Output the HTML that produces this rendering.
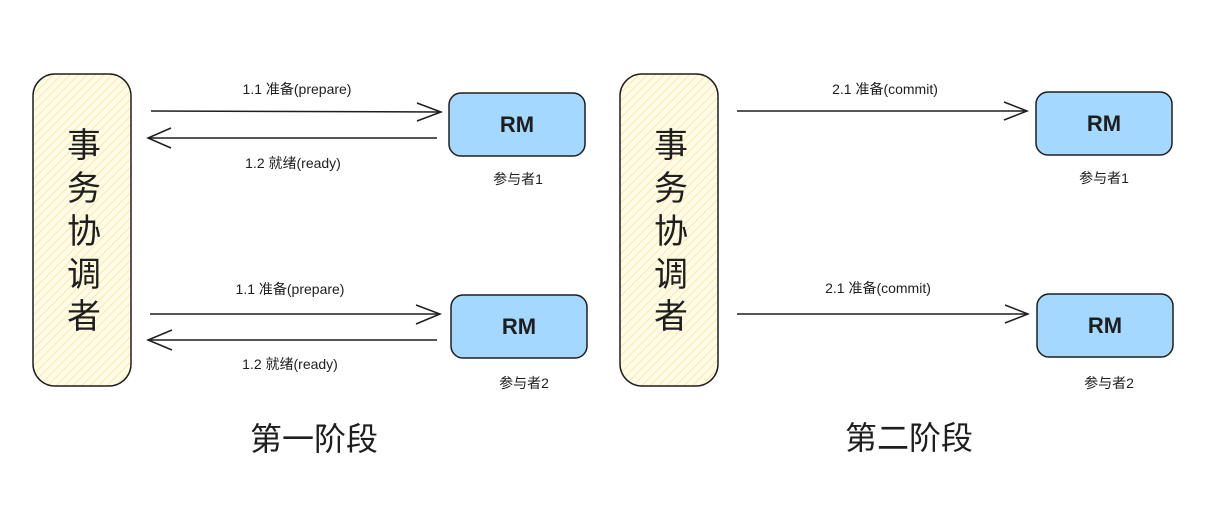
<!DOCTYPE html>
<html><head><meta charset="utf-8"><style>
html,body{margin:0;padding:0;background:#fff;width:1206px;height:511px;overflow:hidden}
text{font-family:"Liberation Sans","Noto Sans CJK SC",sans-serif;fill:#1e1e1e}
</style></head><body>
<svg width="1206" height="511" viewBox="0 0 1206 511" xmlns="http://www.w3.org/2000/svg">
<defs>
<pattern id="h" width="6" height="6" patternUnits="userSpaceOnUse" patternTransform="rotate(45)">
<rect width="6" height="6" fill="#fffbe6"/><line x1="0" y1="0" x2="0" y2="6" stroke="#f5e39a" stroke-width="1.5"/>
</pattern>
</defs>
<g stroke="#1e1e1e" stroke-width="1.5" fill="none">
<rect x="33" y="74" width="98" height="312" rx="22" fill="url(#h)"/>
<rect x="620" y="74" width="98" height="312" rx="22" fill="url(#h)"/>
<rect x="449" y="93" width="136" height="63" rx="12" fill="#a5d8ff"/>
<rect x="451" y="295" width="136" height="63" rx="12" fill="#a5d8ff"/>
<rect x="1036" y="92" width="136" height="63" rx="12" fill="#a5d8ff"/>
<rect x="1037" y="294" width="136" height="63" rx="12" fill="#a5d8ff"/>
<line x1="151" y1="111" x2="441" y2="112"/><polyline points="417,103 441,112 417,121"/>
<line x1="148" y1="138" x2="437" y2="138"/><polyline points="171,128 148,138 171,148"/>
<line x1="150" y1="314" x2="440" y2="314"/><polyline points="416,305 440,314 416,324"/>
<line x1="148" y1="340" x2="437" y2="340"/><polyline points="172,330 148,340 172,350"/>
<line x1="737" y1="111" x2="1027" y2="111"/><polyline points="1004,102 1027,111 1004,120"/>
<line x1="737" y1="314" x2="1028" y2="314"/><polyline points="1005,305 1028,314 1005,323"/>
</g>
<g font-size="34" text-anchor="middle">
<text x="84" y="157">事</text><text x="84" y="200">务</text><text x="84" y="243">协</text><text x="84" y="286">调</text><text x="84" y="328">者</text>
<text x="671" y="157">事</text><text x="671" y="200">务</text><text x="671" y="243">协</text><text x="671" y="286">调</text><text x="671" y="328">者</text>
</g>
<g font-size="22" font-weight="bold" text-anchor="middle">
<text x="517" y="132">RM</text><text x="519" y="334">RM</text><text x="1104" y="131">RM</text><text x="1105" y="333">RM</text>
</g>
<g font-size="14" text-anchor="middle">
<text x="297" y="94">1.1 准备(prepare)</text>
<text x="293" y="168">1.2 就绪(ready)</text>
<text x="290" y="294">1.1 准备(prepare)</text>
<text x="290" y="369">1.2 就绪(ready)</text>
<text x="518" y="184">参与者1</text>
<text x="524" y="388">参与者2</text>
<text x="885" y="94">2.1 准备(commit)</text>
<text x="878" y="293">2.1 准备(commit)</text>
<text x="1104" y="183">参与者1</text>
<text x="1109" y="388">参与者2</text>
</g>
<g font-size="32" text-anchor="middle">
<text x="314" y="450">第一阶段</text>
<text x="909" y="449">第二阶段</text>
</g>
</svg>
</body></html>
